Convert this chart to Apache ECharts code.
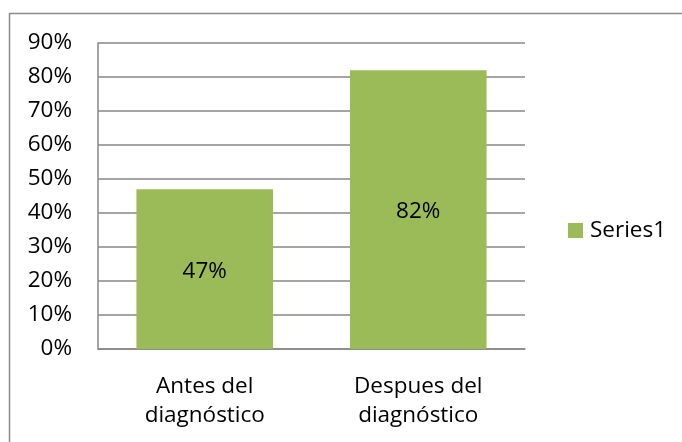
<!DOCTYPE html>
<html>
<head>
<meta charset="utf-8">
<script src="https://cdn.jsdelivr.net/npm/echarts@6/dist/echarts.min.js"></script>
<style>
  html, body { margin: 0; padding: 0; background: #fff; }
  #chart { width: 682px; height: 442px; }
</style>
</head>
<body>
<div id="chart"></div>
<script>
// Share of cases, before and after the diagnosis (percent)
const categories = ['Antes del\ndiagnóstico', 'Despues del\ndiagnóstico'];
const seriesName = 'Series1';
const values = [47, 82];
const yTicks = [0, 10, 20, 30, 40, 50, 60, 70, 80, 90];

const FONT = '"Open Sans", sans-serif';
const FONT_SIZE = 22.5;
const GRID_COLOR = '#878787';
const BAR_COLOR = '#9BBB59';

const chart = echarts.init(document.getElementById('chart'), null, { renderer: 'canvas' });

chart.setOption({
  backgroundColor: '#fff',
  animation: false,
  graphic: [{
    type: 'rect',
    shape: { x: 9.5, y: 13.5, width: 720, height: 480 },
    style: { fill: 'none', stroke: '#8c8c8c', lineWidth: 1.5 },
    silent: true
  }],
  grid: { left: 98, top: 43, right: 157, bottom: 93, containLabel: false },
  legend: {
    orient: 'vertical',
    left: 563,
    top: 214,
    itemWidth: 15,
    itemHeight: 15,
    icon: 'rect',
    textStyle: { fontFamily: FONT, fontSize: FONT_SIZE, color: '#000', padding: [0, 0, 0, 2] },
    data: [seriesName]
  },
  xAxis: {
    type: 'category',
    data: categories,
    axisLine: { show: true, lineStyle: { color: GRID_COLOR, width: 1.5 } },
    axisTick: { show: false },
    axisLabel: {
      fontFamily: FONT, fontSize: FONT_SIZE, color: '#000',
      lineHeight: 29, margin: 23, interval: 0
    }
  },
  yAxis: {
    type: 'value',
    min: yTicks[0],
    max: yTicks[yTicks.length - 1],
    interval: yTicks[1] - yTicks[0],
    axisLine: { show: true, lineStyle: { color: GRID_COLOR, width: 1.5 } },
    axisTick: { show: false },
    splitLine: { show: true, lineStyle: { color: GRID_COLOR, width: 1.5 } },
    axisLabel: {
      fontFamily: FONT, fontSize: FONT_SIZE, color: '#000', margin: 26,
      formatter: v => v + '%'
    }
  },
  series: [{
    name: seriesName,
    type: 'bar',
    data: values,
    barCategoryGap: '36%',
    itemStyle: { color: BAR_COLOR },
    label: {
      show: true,
      position: 'inside',
      offset: [0, 2],
      fontFamily: FONT, fontSize: FONT_SIZE, color: '#000',
      formatter: p => p.value + '%'
    }
  }]
});
</script>
</body>
</html>
